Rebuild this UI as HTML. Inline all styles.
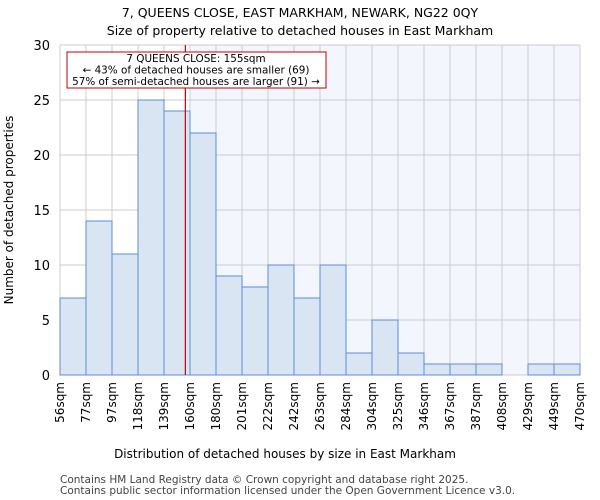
<!DOCTYPE html>
<html><head><meta charset="utf-8"><style>
body{margin:0;background:#fff;}
svg{display:block;font-family:"DejaVu Sans","Liberation Sans",sans-serif;}
</style></head><body>
<svg id="chart" width="600" height="500">
<text x="300" y="17" text-anchor="middle" font-size="12.5">7, QUEENS CLOSE, EAST MARKHAM, NEWARK, NG22 0QY</text>
<text x="300" y="35" text-anchor="middle" font-size="12.5">Size of property relative to detached houses in East Markham</text>
<g id="plot"></g>
<text x="285" y="458" text-anchor="middle" font-size="12">Distribution of detached houses by size in East Markham</text>
<text transform="translate(13,210) rotate(-90)" text-anchor="middle" font-size="12">Number of detached properties</text>
<text x="60" y="483" font-size="10.5" fill="#444">Contains HM Land Registry data © Crown copyright and database right 2025.</text>
<text x="60" y="494" font-size="10.5" fill="#444">Contains public sector information licensed under the Open Government Licence v3.0.</text>
</svg>
<script>
const binLabels=["56sqm","77sqm","97sqm","118sqm","139sqm","160sqm","180sqm","201sqm","222sqm","242sqm","263sqm","284sqm","304sqm","325sqm","346sqm","367sqm","387sqm","408sqm","429sqm","449sqm","470sqm"];
const binEdges=[56,77,97,118,139,160,180,201,222,242,263,284,304,325,346,367,387,408,429,449,470];
const counts=[7,14,11,25,24,22,9,8,10,7,10,2,5,2,1,1,1,0,1,1];
const yTicks=[0,5,10,15,20,25,30];
const propertySize=155;
const annotationLines=["7 QUEENS CLOSE: 155sqm","← 43% of detached houses are smaller (69)","57% of semi-detached houses are larger (91) →"];

const L=60,R=580,T=45,B=375,yMax=30;
const NS="http://www.w3.org/2000/svg";
const g=document.getElementById('plot');
const nb=counts.length;
const xi=i=>L+(R-L)*i/nb;
const xv=v=>L+(R-L)*(v-binEdges[0])/(binEdges[nb]-binEdges[0]);
const y=v=>B-(B-T)*v/yMax;
function mk(t,a){const e=document.createElementNS(NS,t);for(const k in a)e.setAttribute(k,a[k]);g.appendChild(e);return e;}
const px=xv(propertySize)+1;
let hi=binEdges.findIndex(e=>e>=propertySize);
let e;
e=mk('rect',{x:xi(hi),y:T,width:R-xi(hi),height:B-T,fill:'#f3f6fd'});


for(let i=0;i<=nb;i++){e=mk('line',{x1:xi(i),x2:xi(i),y1:T,y2:B,stroke:'#cccccc','stroke-width':1});

}
yTicks.forEach(t=>{e=mk('line',{x1:L,x2:R,y1:y(t),y2:y(t),stroke:'#cccccc','stroke-width':1});


e=mk('text',{x:L-10,y:y(t)+5,'text-anchor':'end','font-size':13});e.textContent=t;

});
counts.forEach((c,i)=>{if(c<=0)return;e=mk('rect',{x:xi(i),y:y(c),width:xi(i+1)-xi(i),height:B-y(c),fill:'#dae5f4',stroke:'#5a8fd6','stroke-width':1});

});
binLabels.forEach((l,i)=>{e=mk('text',{transform:`translate(${xi(i)+4},382) rotate(-90)`,'text-anchor':'end','font-size':12});e.textContent=l;

});
e=mk('line',{x1:px,x2:px,y1:T,y2:B,stroke:'#c00000','stroke-width':1.2});


e=mk('rect',{x:67,y:52,width:259,height:36,fill:'#fff',stroke:'#c00000','stroke-width':1});


annotationLines.forEach((s,i)=>{e=mk('text',{x:196,y:62+i*11.5,'text-anchor':'middle','font-size':10.4});e.textContent=s;

});
</script>
</body></html>
